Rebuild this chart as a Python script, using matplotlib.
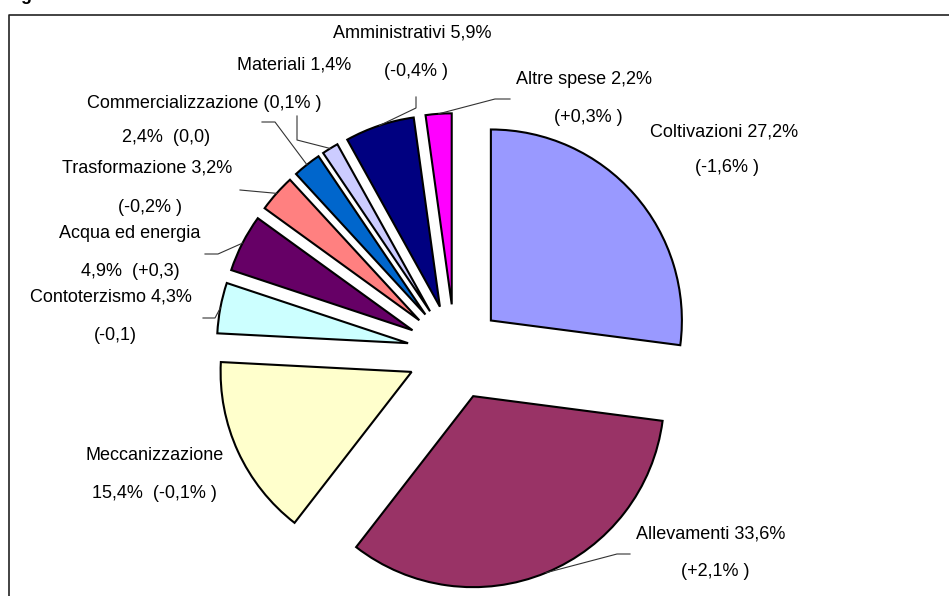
import numpy as np
import matplotlib
matplotlib.use('Agg')
import matplotlib.pyplot as plt

plt.rcParams['font.family'] = ['Liberation Sans', 'DejaVu Sans']

W, H = 949, 596
# pie centre and radius in pixels (top-left origin)
CX, CY, R = 455, 352, 191

categories = ['Coltivazioni', 'Allevamenti', 'Meccanizzazione', 'Contoterzismo',
              'Acqua ed energia', 'Trasformazione', 'Commercializzazione',
              'Materiali', 'Amministrativi', 'Altre spese']
shares = [27.2, 33.6, 15.4, 4.3, 4.9, 3.2, 2.4, 1.4, 5.9, 2.2]
colors = ['#9999FF', '#993366', '#FFFFCC', '#CCFFFF', '#660066',
          '#FF8080', '#0066CC', '#CCCCFF', '#000080', '#FF00FF']
explode = [0.25] * len(shares)

# label lines: (text, x centre px, y centre px)
label_lines = [
    ('Coltivazioni 27,2%', 724, 132), ('(-1,6% )', 727, 167),
    ('Allevamenti 33,6%', 711, 534), ('(+2,1% )', 715, 572),
    ('Meccanizzazione', 155, 455), ('15,4%  (-0,1% )', 154, 493),
    ('Contoterzismo 4,3%', 111, 297), ('(-0,1)', 115, 335),
    ('Acqua ed energia', 130, 234), ('4,9%  (+0,3)', 130, 271),
    ('Trasformazione 3,2%', 147, 168), ('(-0,2% )', 150, 208),
    ('Commercializzazione (0,1% )', 204, 103), ('2,4%  (0,0)', 166, 138),
    ('Materiali 1,4%', 294, 65),
    ('Amministrativi 5,9%', 412, 33), ('(-0,4% )', 416, 72),
    ('Altre spese 2,2%', 584, 80), ('(+0,3% )', 588, 118),
]

# leader lines: slice index -> points after the slice edge (px)
leaders = {
    1: [(617, 554), (630, 554)],
    3: [(215, 318), (203, 318)],
    4: [(218, 254), (205, 254)],
    5: [(240, 190)],
    6: [(275, 122), (262, 122)],
    7: [(297, 140), (297, 116)],
    8: [(416, 108), (416, 97)],
    9: [(495, 99), (510, 99)],
}

fig = plt.figure(figsize=(W / 100, H / 100), dpi=100)
ax = fig.add_axes([0, 0, 1, 1])
wedges, _ = ax.pie(shares, colors=colors, explode=explode, startangle=90,
                   counterclock=False,
                   wedgeprops=dict(edgecolor='black', linewidth=1.5))
ax.set_xlim(-CX / R, (W - CX) / R)
ax.set_ylim((CY - H) / R, CY / R)
ax.set_aspect('equal')
ax.axis('off')

ov = fig.add_axes([0, 0, 1, 1])
ov.set_xlim(0, W)
ov.set_ylim(H, 0)
ov.axis('off')

# frame
ov.plot([9, 9, W], [H, 15, 15], color='#222222', lw=1.2, solid_capstyle='butt')
ov.text(6, 0.5, 'Figura', fontsize=13, fontweight='bold', va='baseline',
        ha='left')

to_px = lambda p: ov.transData.inverted().transform(ax.transData.transform(p))
for idx, pts in leaders.items():
    w = wedges[idx]
    th = np.radians((w.theta1 + w.theta2) / 2)
    edge = to_px((w.center[0] + w.r * np.cos(th), w.center[1] + w.r * np.sin(th)))
    xs = [edge[0]] + [p[0] for p in pts]
    ys = [edge[1]] + [p[1] for p in pts]
    ov.plot(xs, ys, color='#333333', lw=0.8)

for txt, x, y in label_lines:
    ov.text(x, y, txt, fontsize=13, ha='center', va='center', color='black')

fig.savefig('out.png', dpi=100)
